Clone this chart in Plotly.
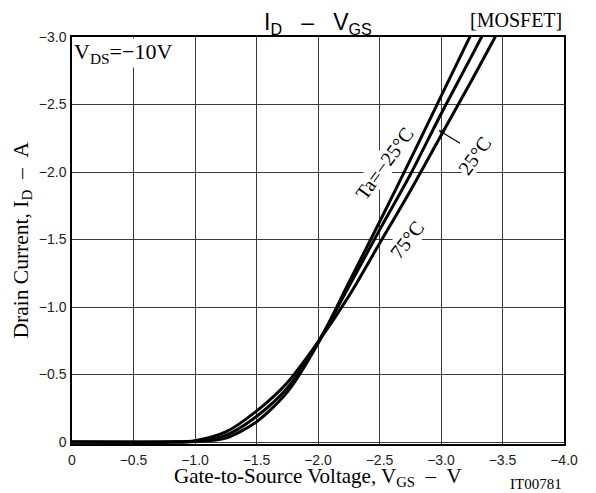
import plotly.graph_objects as go

# ---- data ----
x_ticks = [0, -0.5, -1.0, -1.5, -2.0, -2.5, -3.0, -3.5, -4.0]
x_ticktext = ["0", "−0.5", "−1.0", "−1.5", "−2.0", "−2.5", "−3.0", "−3.5", "−4.0"]
y_ticks = [0, -0.5, -1.0, -1.5, -2.0, -2.5, -3.0]
y_ticktext = ["0", "−0.5", "−1.0", "−1.5", "−2.0", "−2.5", "−3.0"]

vgs = [0, -0.8, -1.0, -1.25, -1.5, -1.75, -2.0, -2.25, -2.5, -2.75, -3.0, -3.25, -3.5]
id_m25 = [0, 0, -0.004, -0.03, -0.15, -0.37, -0.73, -1.18, -1.63, -2.09, -2.56, -3.03, -3.5]
id_25 = [0, 0, -0.006, -0.05, -0.19, -0.40, -0.74, -1.15, -1.57, -1.98, -2.43, -2.86, -3.3]
id_75 = [0, -0.001, -0.01, -0.075, -0.23, -0.44, -0.74, -1.08, -1.47, -1.86, -2.27, -2.68, -3.1]

SERIF = "Liberation Serif, Times New Roman, serif"
SANS = "Liberation Sans, Arial, sans-serif"

fig = go.Figure()
for ys in [id_m25, id_25, id_75]:
    fig.add_trace(go.Scatter(x=vgs, y=ys, mode="lines",
                             line=dict(color="black", width=3, shape="spline", smoothing=0.8),
                             showlegend=False, hoverinfo="skip"))

axis_common = dict(showgrid=True, gridcolor="#3a3a3a", gridwidth=1, zeroline=False,
                   showline=True, linecolor="black", linewidth=1.5, mirror=True,
                   ticks="outside", tickcolor="rgba(0,0,0,0)",
                   tickfont=dict(family=SANS, size=14, color="#222"))

# the page adds an 8px body margin at the top-left
fig.update_layout(
    width=588, height=485,
    margin=dict(l=64, r=32, t=29, b=49),
    paper_bgcolor="white", plot_bgcolor="white",
    xaxis=dict(range=[0, -4], tickvals=x_ticks, ticktext=x_ticktext, ticklen=2, **axis_common),
    yaxis=dict(range=[0.014, -3.0], tickvals=y_ticks, ticktext=y_ticktext, ticklen=1, **axis_common),
)

ann = []
# title
ann.append(dict(text="I<sub>D</sub>\u00a0\u00a0\u00a0–\u00a0\u00a0\u00a0V<sub>GS</sub>", xref="paper", yref="paper",
                x=0.5, y=1 + 14 / 407, xanchor="center", yanchor="middle", showarrow=False,
                font=dict(family=SANS, size=23, color="black")))
ann.append(dict(text="[MOSFET]", xref="paper", yref="paper", x=1.0, y=1 + 17 / 407,
                xanchor="right", yanchor="middle", showarrow=False,
                font=dict(family=SERIF, size=20, color="black")))
# axis titles
ann.append(dict(text="Gate-to-Source Voltage, V<sub>GS</sub>\u00a0\u00a0–\u00a0\u00a0V", xref="paper", yref="paper",
                x=0.5, y=-33 / 407, xanchor="center", yanchor="middle", showarrow=False,
                font=dict(family=SERIF, size=21, color="black")))
ann.append(dict(text="Drain Current, I<sub>D</sub>\u00a0\u00a0–\u00a0\u00a0A", xref="paper", yref="paper",
                x=-50 / 492, y=0.5, xanchor="center", yanchor="middle", textangle=-90, showarrow=False,
                font=dict(family=SERIF, size=21.5, color="black")))
ann.append(dict(text="IT00781", xref="paper", yref="paper", x=1.0, y=-40 / 407,
                xanchor="right", yanchor="middle", showarrow=False,
                font=dict(family=SERIF, size=15, color="black")))
# VDS condition
ann.append(dict(text="V<sub>DS</sub>=−10V", xref="x", yref="y", x=-0.012, y=-2.88,
                xanchor="left", yanchor="middle", showarrow=False, bgcolor="white", borderpad=0,
                font=dict(family=SERIF, size=22, color="black")))
# temperature labels
ann.append(dict(text="Ta=−25°C", xref="x", yref="y", x=-2.54, y=-2.07, textangle=-54,
                showarrow=False, bgcolor="white", borderpad=0,
                font=dict(family=SERIF, size=20, color="black")))
ann.append(dict(text="75°C", xref="x", yref="y", x=-2.72, y=-1.50, textangle=-52,
                showarrow=False, bgcolor="white", borderpad=0,
                font=dict(family=SERIF, size=20, color="black")))
ann.append(dict(text="25°C", xref="x", yref="y", x=-3.27, y=-2.12, textangle=-54,
                showarrow=False, bgcolor="white", borderpad=0,
                font=dict(family=SERIF, size=20, color="black")))
ann.append(dict(text="", xref="x", yref="y", x=-2.98, y=-2.31, ax=23, ay=14,
                showarrow=True, arrowhead=2, arrowsize=1, arrowwidth=1.2, arrowcolor="black"))
fig.update_layout(annotations=ann)

fig.write_html("out.html")
